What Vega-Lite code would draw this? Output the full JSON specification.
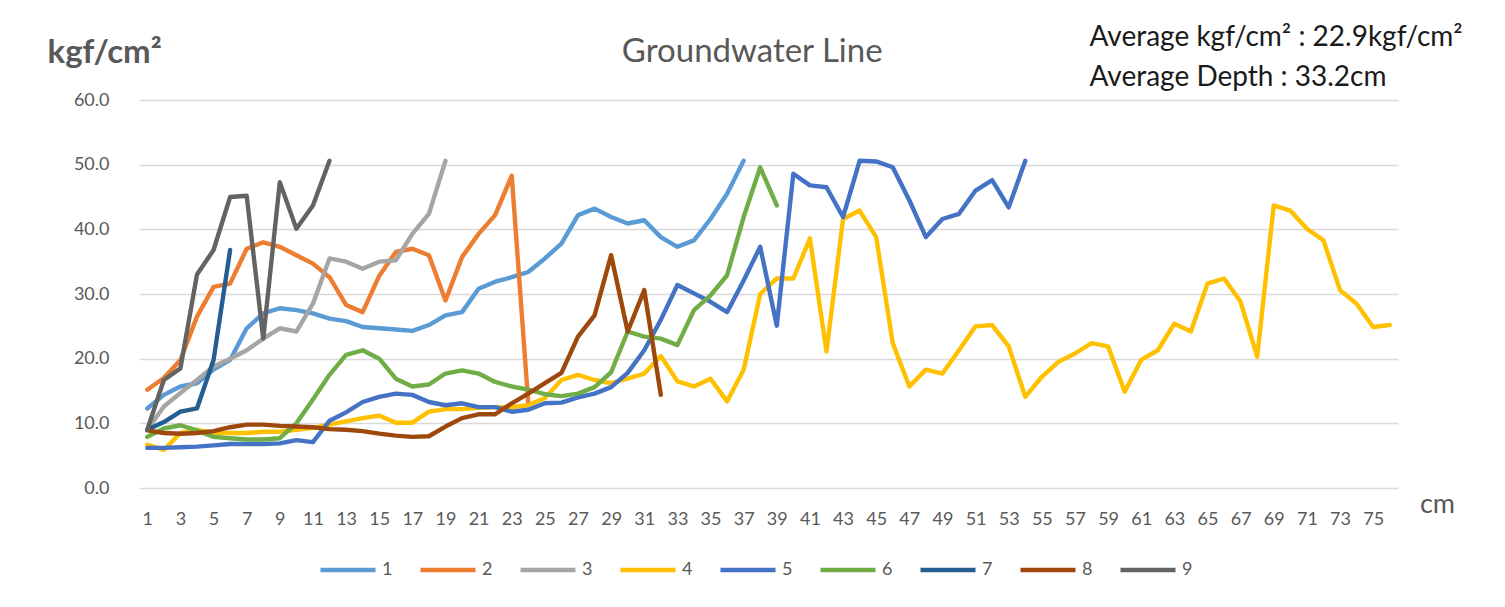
{
  "$schema": "https://vega.github.io/schema/vega-lite/v6.json",
  "width": 1259,
  "height": 388,
  "autosize": {"type": "none"},
  "padding": {"left": 139, "top": 100, "right": 107, "bottom": 119},
  "background": "#ffffff",
  "config": {"view": {"stroke": null}, "font": "Lato", "text": {"font": "Lato"}},
  "layer": [
    {
      "data": {"values": [
        {"s":"1","d":1,"v":12.3},{"s":"1","d":2,"v":14.4},{"s":"1","d":3,"v":15.7},{"s":"1","d":4,"v":16.2},{"s":"1","d":5,"v":18.3},{"s":"1","d":6,"v":19.8},{"s":"1","d":7,"v":24.7},{"s":"1","d":8,"v":27},{"s":"1","d":9,"v":27.8},{"s":"1","d":10,"v":27.5},
        {"s":"1","d":11,"v":27},{"s":"1","d":12,"v":26.2},{"s":"1","d":13,"v":25.8},{"s":"1","d":14,"v":24.9},{"s":"1","d":15,"v":24.7},{"s":"1","d":16,"v":24.5},{"s":"1","d":17,"v":24.3},{"s":"1","d":18,"v":25.2},{"s":"1","d":19,"v":26.7},{"s":"1","d":20,"v":27.2},
        {"s":"1","d":21,"v":30.8},{"s":"1","d":22,"v":31.9},{"s":"1","d":23,"v":32.6},{"s":"1","d":24,"v":33.4},{"s":"1","d":25,"v":35.5},{"s":"1","d":26,"v":37.8},{"s":"1","d":27,"v":42.2},{"s":"1","d":28,"v":43.2},{"s":"1","d":29,"v":41.9},{"s":"1","d":30,"v":40.9},
        {"s":"1","d":31,"v":41.4},{"s":"1","d":32,"v":38.8},{"s":"1","d":33,"v":37.3},{"s":"1","d":34,"v":38.3},{"s":"1","d":35,"v":41.6},{"s":"1","d":36,"v":45.5},{"s":"1","d":37,"v":50.6},
        {"s":"2","d":1,"v":15.2},{"s":"2","d":2,"v":17},{"s":"2","d":3,"v":19.8},{"s":"2","d":4,"v":26.5},{"s":"2","d":5,"v":31.1},{"s":"2","d":6,"v":31.6},{"s":"2","d":7,"v":37},{"s":"2","d":8,"v":38},{"s":"2","d":9,"v":37.3},{"s":"2","d":10,"v":36},
        {"s":"2","d":11,"v":34.7},{"s":"2","d":12,"v":32.6},{"s":"2","d":13,"v":28.3},{"s":"2","d":14,"v":27.2},{"s":"2","d":15,"v":32.8},{"s":"2","d":16,"v":36.5},{"s":"2","d":17,"v":37},{"s":"2","d":18,"v":36},{"s":"2","d":19,"v":29},{"s":"2","d":20,"v":35.7},
        {"s":"2","d":21,"v":39.3},{"s":"2","d":22,"v":42.2},{"s":"2","d":23,"v":48.3},{"s":"2","d":24,"v":13.1},
        {"s":"3","d":1,"v":9},{"s":"3","d":2,"v":12.6},{"s":"3","d":3,"v":14.7},{"s":"3","d":4,"v":16.7},{"s":"3","d":5,"v":18.8},{"s":"3","d":6,"v":20},{"s":"3","d":7,"v":21.3},{"s":"3","d":8,"v":23.1},{"s":"3","d":9,"v":24.7},{"s":"3","d":10,"v":24.2},
        {"s":"3","d":11,"v":28.5},{"s":"3","d":12,"v":35.5},{"s":"3","d":13,"v":35},{"s":"3","d":14,"v":33.9},{"s":"3","d":15,"v":35},{"s":"3","d":16,"v":35.2},{"s":"3","d":17,"v":39.3},{"s":"3","d":18,"v":42.4},{"s":"3","d":19,"v":50.6},
        {"s":"4","d":1,"v":6.7},{"s":"4","d":2,"v":5.9},{"s":"4","d":3,"v":8.5},{"s":"4","d":4,"v":9},{"s":"4","d":5,"v":8.5},{"s":"4","d":6,"v":8.5},{"s":"4","d":7,"v":8.5},{"s":"4","d":8,"v":8.7},{"s":"4","d":9,"v":8.7},{"s":"4","d":10,"v":9},
        {"s":"4","d":11,"v":9.3},{"s":"4","d":12,"v":9.8},{"s":"4","d":13,"v":10.3},{"s":"4","d":14,"v":10.8},{"s":"4","d":15,"v":11.2},{"s":"4","d":16,"v":10.1},{"s":"4","d":17,"v":10.1},{"s":"4","d":18,"v":11.8},{"s":"4","d":19,"v":12.2},{"s":"4","d":20,"v":12.2},
        {"s":"4","d":21,"v":12.4},{"s":"4","d":22,"v":12.5},{"s":"4","d":23,"v":12.5},{"s":"4","d":24,"v":12.8},{"s":"4","d":25,"v":13.9},{"s":"4","d":26,"v":16.7},{"s":"4","d":27,"v":17.5},{"s":"4","d":28,"v":16.7},{"s":"4","d":29,"v":16.2},{"s":"4","d":30,"v":16.9},
        {"s":"4","d":31,"v":17.7},{"s":"4","d":32,"v":20.4},{"s":"4","d":33,"v":16.5},{"s":"4","d":34,"v":15.7},{"s":"4","d":35,"v":16.9},{"s":"4","d":36,"v":13.4},{"s":"4","d":37,"v":18.3},{"s":"4","d":38,"v":30},{"s":"4","d":39,"v":32.4},{"s":"4","d":40,"v":32.4},
        {"s":"4","d":41,"v":38.6},{"s":"4","d":42,"v":21.1},{"s":"4","d":43,"v":41.6},{"s":"4","d":44,"v":42.9},{"s":"4","d":45,"v":38.8},{"s":"4","d":46,"v":22.4},{"s":"4","d":47,"v":15.7},{"s":"4","d":48,"v":18.3},{"s":"4","d":49,"v":17.7},{"s":"4","d":50,"v":21.3},
        {"s":"4","d":51,"v":25},{"s":"4","d":52,"v":25.2},{"s":"4","d":53,"v":21.9},{"s":"4","d":54,"v":14.1},{"s":"4","d":55,"v":17.2},{"s":"4","d":56,"v":19.5},{"s":"4","d":57,"v":20.8},{"s":"4","d":58,"v":22.4},{"s":"4","d":59,"v":21.9},{"s":"4","d":60,"v":14.9},
        {"s":"4","d":61,"v":19.8},{"s":"4","d":62,"v":21.3},{"s":"4","d":63,"v":25.4},{"s":"4","d":64,"v":24.2},{"s":"4","d":65,"v":31.6},{"s":"4","d":66,"v":32.4},{"s":"4","d":67,"v":28.8},{"s":"4","d":68,"v":20.3},{"s":"4","d":69,"v":43.7},{"s":"4","d":70,"v":42.9},
        {"s":"4","d":71,"v":40.1},{"s":"4","d":72,"v":38.3},{"s":"4","d":73,"v":30.6},{"s":"4","d":74,"v":28.5},{"s":"4","d":75,"v":24.9},{"s":"4","d":76,"v":25.2},
        {"s":"5","d":1,"v":6.2},{"s":"5","d":2,"v":6.2},{"s":"5","d":3,"v":6.3},{"s":"5","d":4,"v":6.4},{"s":"5","d":5,"v":6.6},{"s":"5","d":6,"v":6.8},{"s":"5","d":7,"v":6.8},{"s":"5","d":8,"v":6.8},{"s":"5","d":9,"v":6.9},{"s":"5","d":10,"v":7.4},
        {"s":"5","d":11,"v":7.1},{"s":"5","d":12,"v":10.4},{"s":"5","d":13,"v":11.7},{"s":"5","d":14,"v":13.3},{"s":"5","d":15,"v":14.1},{"s":"5","d":16,"v":14.6},{"s":"5","d":17,"v":14.4},{"s":"5","d":18,"v":13.3},{"s":"5","d":19,"v":12.8},{"s":"5","d":20,"v":13.1},
        {"s":"5","d":21,"v":12.5},{"s":"5","d":22,"v":12.5},{"s":"5","d":23,"v":11.8},{"s":"5","d":24,"v":12.1},{"s":"5","d":25,"v":13.1},{"s":"5","d":26,"v":13.2},{"s":"5","d":27,"v":14},{"s":"5","d":28,"v":14.6},{"s":"5","d":29,"v":15.6},{"s":"5","d":30,"v":17.8},
        {"s":"5","d":31,"v":21.3},{"s":"5","d":32,"v":26},{"s":"5","d":33,"v":31.4},{"s":"5","d":34,"v":30.1},{"s":"5","d":35,"v":28.8},{"s":"5","d":36,"v":27.2},{"s":"5","d":37,"v":32.1},{"s":"5","d":38,"v":37.3},{"s":"5","d":39,"v":25.1},{"s":"5","d":40,"v":48.6},
        {"s":"5","d":41,"v":46.8},{"s":"5","d":42,"v":46.5},{"s":"5","d":43,"v":41.9},{"s":"5","d":44,"v":50.6},{"s":"5","d":45,"v":50.5},{"s":"5","d":46,"v":49.6},{"s":"5","d":47,"v":44.5},{"s":"5","d":48,"v":38.8},{"s":"5","d":49,"v":41.6},{"s":"5","d":50,"v":42.4},
        {"s":"5","d":51,"v":46},{"s":"5","d":52,"v":47.6},{"s":"5","d":53,"v":43.4},{"s":"5","d":54,"v":50.6},
        {"s":"6","d":1,"v":7.9},{"s":"6","d":2,"v":9.2},{"s":"6","d":3,"v":9.7},{"s":"6","d":4,"v":8.9},{"s":"6","d":5,"v":7.9},{"s":"6","d":6,"v":7.7},{"s":"6","d":7,"v":7.5},{"s":"6","d":8,"v":7.5},{"s":"6","d":9,"v":7.7},{"s":"6","d":10,"v":10},
        {"s":"6","d":11,"v":13.7},{"s":"6","d":12,"v":17.5},{"s":"6","d":13,"v":20.6},{"s":"6","d":14,"v":21.3},{"s":"6","d":15,"v":20},{"s":"6","d":16,"v":16.9},{"s":"6","d":17,"v":15.7},{"s":"6","d":18,"v":16},{"s":"6","d":19,"v":17.7},{"s":"6","d":20,"v":18.2},
        {"s":"6","d":21,"v":17.7},{"s":"6","d":22,"v":16.4},{"s":"6","d":23,"v":15.7},{"s":"6","d":24,"v":15.2},{"s":"6","d":25,"v":14.5},{"s":"6","d":26,"v":14.2},{"s":"6","d":27,"v":14.6},{"s":"6","d":28,"v":15.6},{"s":"6","d":29,"v":17.9},{"s":"6","d":30,"v":24.2},
        {"s":"6","d":31,"v":23.4},{"s":"6","d":32,"v":23.1},{"s":"6","d":33,"v":22.1},{"s":"6","d":34,"v":27.5},{"s":"6","d":35,"v":29.8},{"s":"6","d":36,"v":32.9},{"s":"6","d":37,"v":41.9},{"s":"6","d":38,"v":49.6},{"s":"6","d":39,"v":43.7},
        {"s":"7","d":1,"v":9},{"s":"7","d":2,"v":10.2},{"s":"7","d":3,"v":11.8},{"s":"7","d":4,"v":12.3},{"s":"7","d":5,"v":19.8},{"s":"7","d":6,"v":36.8},
        {"s":"8","d":1,"v":8.9},{"s":"8","d":2,"v":8.5},{"s":"8","d":3,"v":8.4},{"s":"8","d":4,"v":8.5},{"s":"8","d":5,"v":8.8},{"s":"8","d":6,"v":9.4},{"s":"8","d":7,"v":9.8},{"s":"8","d":8,"v":9.8},{"s":"8","d":9,"v":9.6},{"s":"8","d":10,"v":9.5},
        {"s":"8","d":11,"v":9.4},{"s":"8","d":12,"v":9.1},{"s":"8","d":13,"v":9},{"s":"8","d":14,"v":8.8},{"s":"8","d":15,"v":8.4},{"s":"8","d":16,"v":8.1},{"s":"8","d":17,"v":7.9},{"s":"8","d":18,"v":8},{"s":"8","d":19,"v":9.5},{"s":"8","d":20,"v":10.8},
        {"s":"8","d":21,"v":11.4},{"s":"8","d":22,"v":11.4},{"s":"8","d":23,"v":13.1},{"s":"8","d":24,"v":14.6},{"s":"8","d":25,"v":16.2},{"s":"8","d":26,"v":17.8},{"s":"8","d":27,"v":23.4},{"s":"8","d":28,"v":26.7},{"s":"8","d":29,"v":36},{"s":"8","d":30,"v":24.2},
        {"s":"8","d":31,"v":30.6},{"s":"8","d":32,"v":14.4},
        {"s":"9","d":1,"v":9},{"s":"9","d":2,"v":16.7},{"s":"9","d":3,"v":18.5},{"s":"9","d":4,"v":33},{"s":"9","d":5,"v":36.8},{"s":"9","d":6,"v":45},{"s":"9","d":7,"v":45.2},{"s":"9","d":8,"v":23.1},{"s":"9","d":9,"v":47.3},{"s":"9","d":10,"v":40.1},
        {"s":"9","d":11,"v":43.7},{"s":"9","d":12,"v":50.6}
      ]},
      "mark": {"type": "line", "strokeWidth": 4.4, "strokeCap": "round", "strokeJoin": "round"},
      "encoding": {
        "x": {
          "field": "d", "type": "ordinal",
          "scale": {"paddingInner": 0, "paddingOuter": 0},
          "axis": {
            "values": [1,3,5,7,9,11,13,15,17,19,21,23,25,27,29,31,33,35,37,39,41,43,45,47,49,51,53,55,57,59,61,63,65,67,69,71,73,75],
            "labelAngle": 0, "labelFontSize": 18, "labelColor": "#595959", "labelFont": "Lato",
            "domain": false, "ticks": false, "labelPadding": 22, "grid": false,
            "title": "cm", "titleX": 1298, "titleY": 24, "titleAlign": "center", "titleBaseline": "alphabetic",
            "titleFontSize": 27, "titleFontWeight": "normal", "titleColor": "#595959", "titleFont": "Lato"
          }
        },
        "y": {
          "field": "v", "type": "quantitative",
          "scale": {"domain": [0, 60], "nice": false},
          "axis": {
            "values": [0,10,20,30,40,50,60], "format": ".1f",
            "labelFontSize": 18, "labelColor": "#595959", "labelFont": "Lato",
            "domain": false, "ticks": false, "labelPadding": 30,
            "gridColor": "#D9D9D9", "gridWidth": 1.3,
            "title": "kgf/cm²", "titleAngle": 0, "titleX": -92, "titleY": -38, "titleAlign": "left", "titleBaseline": "alphabetic",
            "titleFontSize": 33, "titleFontWeight": "bold", "titleColor": "#595959", "titleFont": "Lato"
          }
        },
        "color": {
          "field": "s", "type": "nominal",
          "scale": {"domain": ["1","2","3","4","5","6","7","8","9"], "range": ["#5B9BD5","#ED7D31","#A5A5A5","#FFC000","#4472C4","#70AD47","#255E91","#9E480E","#636363"]},
          "legend": {
            "orient": "none", "direction": "horizontal", "legendX": 179, "legendY": 440, "title": null,
            "symbolType": "stroke", "symbolSize": 3025, "symbolStrokeWidth": 4.5,
            "labelFontSize": 18, "labelColor": "#595959", "labelFont": "Lato", "labelOffset": 4, "columnPadding": 18
          }
        }
      }
    },
    {
      "data": {"values": [{"label": "Groundwater Line"}]},
      "mark": {"type": "text", "align": "center", "baseline": "alphabetic", "fontSize": 33, "color": "#595959", "dx": -8},
      "encoding": {"text": {"field": "label"}, "x": {"datum": 38, "type": "ordinal"}, "y": {"datum": 65.8, "type": "quantitative"}}
    },
    {
      "data": {"values": [{"label": ["Average kgf/cm² : 22.9kgf/cm²", "Average Depth : 33.2cm"]}]},
      "mark": {"type": "text", "align": "left", "baseline": "alphabetic", "fontSize": 28, "lineHeight": 40, "color": "#1a1a1a", "dx": -2},
      "encoding": {"text": {"field": "label"}, "x": {"datum": 58, "type": "ordinal"}, "y": {"datum": 68.3, "type": "quantitative"}}
    }
  ]
}
